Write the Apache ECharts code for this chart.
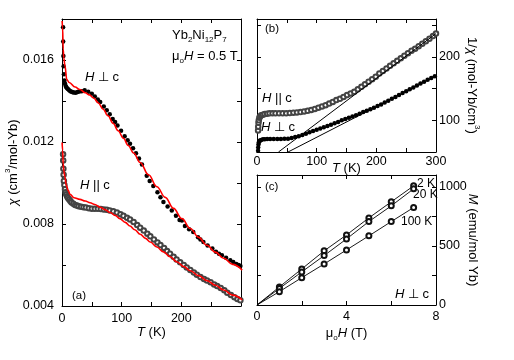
<!DOCTYPE html>
<html>
<head>
<meta charset="utf-8">
<script src="https://cdn.jsdelivr.net/npm/echarts@6/dist/echarts.min.js"></script>
<style>
html, body { margin: 0; padding: 0; background: #fff; }
#chart { width: 514px; height: 360px; }
</style>
</head>
<body>
<div id="chart"></div>
<script>
// (a) chi(T), H perp c : measured points [T, chi]
const chiPerpData = [[1.8,0.0176],[2,0.0169],[2.3,0.0162],[2.7,0.0157],[3.2,0.0153],[4,0.0150],[5,0.01485],[6,0.01475],[7,0.01468],[8.5,0.01462],[10,0.01458],[12,0.01452],[14,0.01448],[16,0.01445],[18,0.01443],[20,0.01442],[23,0.0144],[26,0.01444],[29,0.01446],[33,0.01448],[38,0.01452],[44,0.01445],[50,0.01435],[55,0.01422],[60,0.01407],[64,0.01395],[70,0.01373],[75,0.01355],[80,0.01335],[85,0.01312],[89,0.01297],[93,0.0128],[99,0.01255],[105,0.01228],[110,0.01208],[114,0.01192],[119,0.0117],[124,0.01145],[129,0.0112],[134,0.0109],[142,0.01035],[147,0.0101],[153,0.00985],[160,0.00955],[165,0.0093],[170,0.00907],[177,0.00885],[184,0.00866],[191,0.0084],[197,0.0082],[201,0.00817],[206,0.0079],[213,0.00775],[220,0.00761],[228,0.00735],[232,0.00725],[237,0.00712],[244,0.00695],[252,0.0068],[258,0.00665],[263,0.00655],[268,0.00647],[275,0.00635],[282,0.00623],[287,0.00615],[292,0.00605],[296,0.006],[299,0.00595]]
// (a) chi(T), H || c : measured points
const chiParData = [[1.8,0.0114],[2,0.0111],[2.3,0.0107],[2.7,0.0104],[3.2,0.0101],[4,0.0099],[5,0.0097],[6,0.00955],[7,0.00945],[8.5,0.00935],[10,0.00927],[12,0.0092],[14,0.00912],[16,0.00905],[19,0.00899],[22,0.00893],[25,0.0089],[28,0.00887],[32,0.00884],[36,0.00882],[40,0.0088],[45,0.00877],[50,0.00875],[55,0.00874],[60,0.00874],[65,0.00873],[70,0.00871],[75,0.00869],[80,0.00866],[86,0.00862],[92,0.00856],[98,0.00848],[103,0.0084],[109,0.0083],[114,0.00822],[120,0.0081],[126,0.00795],[131,0.00782],[137,0.00768],[143,0.00753],[148,0.0074],[154,0.00725],[160,0.0071],[165,0.00697],[171,0.00683],[176,0.00668],[181,0.00655],[187,0.0064],[192,0.00627],[198,0.00613],[204,0.006],[209,0.00588],[215,0.00576],[221,0.00563],[226,0.00553],[232,0.00541],[238,0.00532],[243,0.00524],[249,0.00516],[255,0.00505],[260,0.00497],[266,0.00488],[272,0.00477],[277,0.00465],[283,0.00454],[289,0.00443],[294,0.00434],[299,0.00428]]
// (a) calculated curves (red)
const chiPerpCalc = [[0.2,0.0179],[1,0.0176],[2,0.01653],[3,0.0161],[5,0.0157],[8,0.01505],[12,0.0149],[22,0.01468],[30,0.01456],[39,0.0144],[46,0.0143],[53,0.01415],[61,0.0139],[69,0.0136],[77,0.01328],[86,0.0129],[94,0.01255],[103,0.01218],[111,0.01183],[120,0.01146],[131,0.011],[145,0.0104],[159,0.00982],[173,0.0093],[187,0.00876],[201,0.00826],[215,0.00778],[229,0.00735],[243,0.00696],[257,0.00663],[271,0.00633],[286,0.00603],[302,0.00575]]
const chiParCalc = [[0.2,0.01198],[1,0.0116],[2,0.01094],[3,0.0106],[5,0.01028],[7,0.0099],[10.6,0.00963],[13.4,0.00945],[20,0.00928],[30,0.0092],[39,0.00912],[47,0.00904],[55,0.00895],[64,0.00882],[72,0.0087],[81,0.00856],[89,0.00842],[97,0.00826],[106,0.00808],[114,0.0079],[122,0.00772],[131,0.0075],[140,0.0073],[148,0.00712],[159,0.00688],[170,0.00664],[181,0.0064],[193,0.00615],[204,0.00593],[215,0.00572],[229,0.00548],[243,0.00524],[257,0.00501],[271,0.00478],[286,0.00453],[302,0.0043]]

// (b) 1/chi(T)
const invParData = [[1.8,84],[2,90],[2.5,96],[3,100],[4,104],[5,106],[7,108],[10,109],[13,110],[17,110.5],[21,111],[26,111],[31,111],[37,111],[43,111],[49,111],[55,111.5],[61,112],[67,112.5],[73,113],[79,114],[85,115],[91,116.5],[97,118],[103,120],[109,122],[115,124],[121,126.5],[127,129],[133,132],[139,134],[145,137],[151,140],[157,142.5],[163,145],[169,149],[175,153],[181,157],[187,161],[193,165],[199,169],[205,174],[211,178],[217,182],[223,186],[229,190],[235,194],[241,198],[247,202],[253,206],[259,210],[265,213],[271,217],[277,221],[283,225],[289,229],[295,233],[300,237]]
const invPerpData = [[1.8,52],[2,57],[2.5,62],[3,65],[4,67],[5,68],[7,69],[10,70],[13,70],[17,70.5],[22,70.5],[28,70.5],[34,70.5],[40,70.5],[46,71],[52,71],[58,72],[64,73.5],[70,75],[76,77],[82,79],[88,81],[94,83],[100,85],[106,87],[112,89],[118,91],[124,93],[130,95.5],[136,97.5],[142,100],[148,102],[154,104],[160,106],[166,108],[172,110.5],[178,113],[184,115],[190,117.5],[196,120],[202,122.5],[208,125],[214,128],[220,131],[226,134],[232,137],[238,140],[244,143],[250,146],[256,149],[262,152],[268,155],[274,158],[280,161],[286,164],[292,167],[298,169.5]]
// Curie-Weiss straight lines
const invParFit = [[36,50],[300,237]]
const invPerpFit = [[52,50],[300,170]]

// (c) M(H), H perp c
const fieldH = [0, 1, 2, 3, 4, 5, 6, 7]
const m2K = [0, 153, 305, 458, 593, 737, 873, 1008]
const m20K = [0, 140, 280, 418, 559, 706, 839, 983]
const m100K = [0, 113, 231, 347, 466, 585, 706, 825]

const FONT = 'Liberation Sans, Arial, Helvetica, sans-serif'
const rich = {
  i: { fontStyle: 'italic', fontFamily: FONT, fontSize: 13, lineHeight: 18, color: '#000' },
  sub: { fontFamily: FONT, fontSize: 8, lineHeight: 18, verticalAlign: 'bottom', color: '#000' },
  sup: { fontFamily: FONT, fontSize: 8, lineHeight: 18, verticalAlign: 'top', color: '#000' }
}

// 坐标轴（刻度朝内，四边都有）
function frameAxis(gridIndex, position, min, max, interval) {
  return {
    type: 'value',
    gridIndex: gridIndex,
    position: position,
    min: min,
    max: max,
    interval: interval,
    axisLine: { show: true, onZero: false, lineStyle: { color: '#000', width: 1 } },
    axisTick: { show: true, inside: true, length: 4, lineStyle: { color: '#000', width: 1 } },
    axisLabel: { show: false },
    splitLine: { show: false }
  }
}
function labelled(axis, margin, formatter) {
  axis.axisLabel = {
    show: true, color: '#000', fontFamily: FONT, fontSize: 12.5,
    margin: margin, formatter: formatter,
    showMinLabel: true, showMaxLabel: true, hideOverlap: false
  }
  return axis
}
function named(axis, name, gap, rotate) {
  axis.name = name
  axis.nameLocation = 'middle'
  axis.nameGap = gap
  axis.nameMoveOverlap = false
  if (rotate !== undefined) axis.nameRotate = rotate
  axis.nameTextStyle = { color: '#000', fontFamily: FONT, fontSize: 13, lineHeight: 18, rich: rich }
  return axis
}

const xAxes = [
  named(labelled(frameAxis(0, 'bottom', 0, 300, 50), 6, v => (v % 100 === 0 && v < 300 ? v : '')), '{i|T} (K)', 17),
  frameAxis(0, 'top', 0, 300, 50),
  named(labelled(frameAxis(1, 'bottom', 0, 300, 50), 3, v => (v % 100 === 0 ? v : '')), '{i|T} (K)', 7),
  frameAxis(1, 'top', 0, 300, 50),
  named(labelled(frameAxis(2, 'bottom', 0, 8, 2), 5, v => (v % 4 === 0 ? v : '')), 'μ{sub|o}{i|H} (T)', 19),
  frameAxis(2, 'top', 0, 8, 2)
]
const yAxes = [
  named(labelled(frameAxis(0, 'left', 0.004, 0.018, 0.002), 8, v => (Math.round(v * 1000) % 4 === 0 ? v.toFixed(3) : '')), '{i|χ} (cm{sup|3}/mol-Yb)', 40),
  frameAxis(0, 'right', 0.004, 0.018, 0.002),
  named(labelled(frameAxis(1, 'right', 50, 260, 50), 3, v => (v % 100 === 0 ? v : '')), '1/{i|χ} (mol-Yb/cm{sup|3})', 27, -90),
  frameAxis(1, 'left', 50, 260, 50),
  named(labelled(frameAxis(2, 'right', 0, 1100, 250), 3, v => (v % 500 === 0 ? v : '')), '{i|M} (emu/mol Yb)', 28, -90),
  frameAxis(2, 'left', 0, 1100, 250)
]

function scatter(data, xi, yi, hollow, size) {
  return {
    type: 'scatter', xAxisIndex: xi, yAxisIndex: yi, data: data,
    symbol: hollow ? 'emptyCircle' : 'circle', symbolSize: size,
    itemStyle: hollow ? { color: '#444', borderWidth: 0.6, opacity: 1 } : { color: '#000', opacity: 1 },
    z: 2, silent: true
  }
}
function curve(data, xi, yi, color, width, smooth) {
  return {
    type: 'line', xAxisIndex: xi, yAxisIndex: yi, data: data,
    showSymbol: false, smooth: smooth, smoothMonotone: 'x', clip: true,
    lineStyle: { color: color, width: width }, z: 3, silent: true
  }
}
function mh(values) {
  return {
    type: 'line', xAxisIndex: 4, yAxisIndex: 4,
    // 原点处不画圆圈
    data: fieldH.map((h, i) => (i === 0 ? { value: [h, values[i]], symbol: 'none' } : [h, values[i]])),
    symbol: 'emptyCircle', symbolSize: 5, showSymbol: true,
    lineStyle: { color: '#000', width: 0.9 },
    itemStyle: { color: '#111', borderWidth: 0.8, opacity: 1 },
    silent: true
  }
}

function label(x, y, text, size) {
  return {
    type: 'text', x: x, y: y, silent: true,
    style: {
      text: text, fill: '#000', fontFamily: FONT, fontSize: size || 13,
      lineHeight: 18, align: 'left', verticalAlign: 'middle', rich: rich
    }
  }
}

const chart = echarts.init(document.getElementById('chart'), null, { renderer: 'canvas' })
chart.setOption({
  backgroundColor: '#fff',
  animation: false,
  grid: [
    { left: 62, top: 19, width: 179, height: 287, outerBoundsMode: 'none' },
    { left: 257, top: 19, width: 179, height: 133, outerBoundsMode: 'none' },
    { left: 257, top: 175, width: 179, height: 130, outerBoundsMode: 'none' }
  ],
  xAxis: xAxes,
  yAxis: yAxes,
  series: [
    scatter(chiPerpData, 0, 0, false, 4.5),
    scatter(chiParData, 0, 0, true, 4.5),
    curve(chiPerpCalc, 0, 0, '#f00', 1.6, 0.4),
    curve(chiParCalc, 0, 0, '#f00', 1.6, 0.4),
    scatter(invParData, 2, 2, true, 4.5),
    scatter(invPerpData, 2, 2, false, 4.5),
    curve(invParFit, 2, 2, '#000', 1, false),
    curve(invPerpFit, 2, 2, '#000', 1, false),
    mh(m2K),
    mh(m20K),
    mh(m100K)
  ],
  graphic: [
    label(172, 35, 'Yb{sub|2}Ni{sub|12}P{sub|7}'),
    label(172, 56, 'μ{sub|o}{i|H} = 0.5 T'),
    label(85, 77, '{i|H} ⊥ c'),
    label(80, 185, '{i|H} || c'),
    label(72, 296, '(a)', 11.5),
    label(265, 29, '(b)', 11.5),
    label(262, 98, '{i|H} || c'),
    label(261, 127, '{i|H} ⊥ c'),
    label(265, 187, '(c)', 11.5),
    label(417, 184, '2 K', 12),
    label(413, 195, '20 K', 12),
    label(401, 222, '100 K', 12),
    label(395, 294, '{i|H} ⊥ c')
  ]
})
</script>
</body>
</html>
